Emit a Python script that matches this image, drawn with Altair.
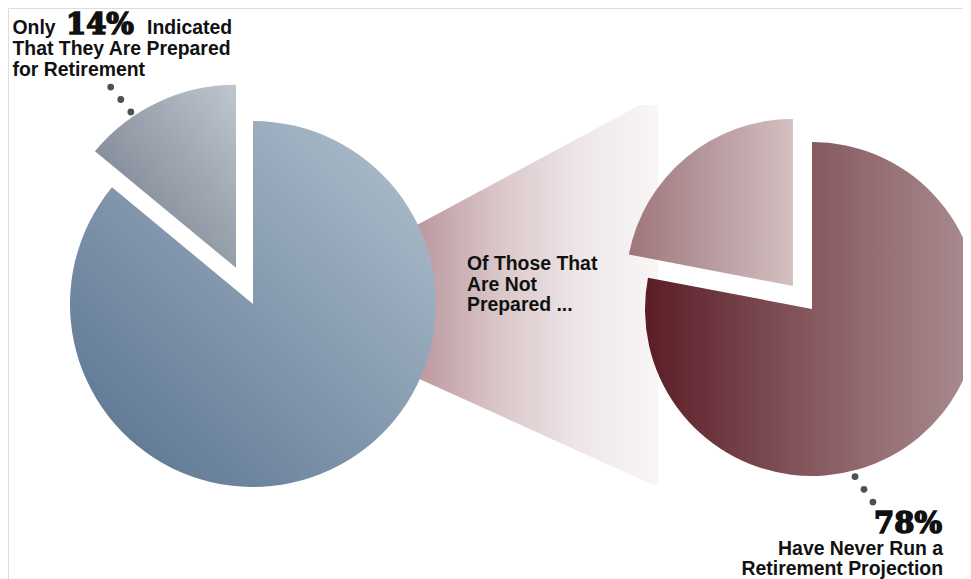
import math
import altair as alt
import pandas as pd

# ---------------- data ----------------
prep_labels = ["Not prepared", "Prepared for retirement"]
prep_values = [86, 14]
proj_labels = ["Have never run a retirement projection", "Have run a retirement projection"]
proj_values = [78, 22]

big_left = "14%"
big_right = "78%"

# ---------------- layout ----------------
W, H = 955, 571          # svg size (page offset 8px)
LEFT_C, LEFT_R, LEFT_EXPLODE = (253, 304), 183, 40
RIGHT_C, RIGHT_R, RIGHT_EXPLODE = (812, 309), 167, 30

xs = alt.Scale(domain=[8, 8 + W], nice=False, zero=False)
ys = alt.Scale(domain=[8 + H, 8], nice=False, zero=False)
ts = alt.Scale(domain=[0, 100], range=[0, 2 * math.pi])


def slices(labels, values, center, explode_idx, explode):
    rows, acc, total = [], 0, sum(values)
    for i, (lab, v) in enumerate(zip(labels, values)):
        s = acc / total * 100
        acc += v
        e = acc / total * 100
        mid = (s + e) / 200 * 2 * math.pi
        off = explode if i == explode_idx else 0
        rows.append(dict(label=lab, value=v, start=s, end=e,
                         cx=center[0] + off * math.sin(mid),
                         cy=center[1] - off * math.cos(mid)))
    return pd.DataFrame(rows)


left_df = slices(prep_labels, prep_values, LEFT_C, 1, LEFT_EXPLODE)
right_df = slices(proj_labels, proj_values, RIGHT_C, 1, RIGHT_EXPLODE)


def grad(c0, c1, x1=0, y1=0, x2=1, y2=0, mid=None):
    stops = [alt.GradientStop(color=c0, offset=0)]
    if mid:
        stops.append(alt.GradientStop(color=mid, offset=0.5))
    stops.append(alt.GradientStop(color=c1, offset=1))
    return alt.LinearGradient(gradient="linear", stops=stops, x1=x1, y1=y1, x2=x2, y2=y2)


def arc_layer(df, label, radius, fill):
    return (alt.Chart(df)
            .transform_filter(alt.datum.label == label)
            .mark_arc(outerRadius=radius, fill=fill)
            .encode(x=alt.X("cx:Q", scale=xs, axis=None),
                    y=alt.Y("cy:Q", scale=ys, axis=None),
                    theta=alt.Theta("start:Q", scale=ts),
                    theta2="end:Q"))


# connector (funnel) between the two pies
funnel_df = pd.DataFrame({
    "x": [415, 640, 653, 658],
    "top": [226, 105, 105, 105],
    "bot": [377, 479, 485, 485],
})
funnel = alt.Chart(funnel_df).mark_area(
    fill=alt.LinearGradient(gradient="linear", x1=0, y1=0, x2=1, y2=0, stops=[
        alt.GradientStop(color="#bb979c", offset=0),
        alt.GradientStop(color="#dac7ca", offset=0.35),
        alt.GradientStop(color="#efe8e9", offset=0.7),
        alt.GradientStop(color="#f9f6f6", offset=1)])
).encode(x=alt.X("x:Q", scale=xs, axis=None),
         y=alt.Y("top:Q", scale=ys, axis=None),
         y2="bot:Q")

left_main = arc_layer(left_df, prep_labels[0], LEFT_R,
                      grad("#56708d", "#b2c2cf", x1=0, y1=1, x2=1, y2=0))
left_small = arc_layer(left_df, prep_labels[1], LEFT_R,
                       grad("#6c7684", "#bec6ce", x1=0, y1=1, x2=1, y2=0))
right_main = arc_layer(right_df, proj_labels[0], RIGHT_R,
                       grad("#5a1d26", "#ab8e92", mid="#86595f"))
right_small = arc_layer(right_df, proj_labels[1], RIGHT_R,
                        grad("#9d767b", "#d3bfc1"))


# leader dots: start just outside the slice edge, then step along a direction
def dots(center, radial_deg, r0, step_deg, step, n=3):
    a = math.radians(radial_deg)
    sx, sy = center[0] + r0 * math.sin(a), center[1] - r0 * math.cos(a)
    b = math.radians(step_deg)
    return [dict(x=sx + k * step * math.sin(b), y=sy - k * step * math.cos(b)) for k in range(n)]


ls = left_df.iloc[1]
dot_df = pd.DataFrame(
    dots((ls.cx, ls.cy), 326, LEFT_R + 5, 321, 16) +
    dots(RIGHT_C, 165.6, RIGHT_R + 6, 145, 15.6))
dot_layer = alt.Chart(dot_df).mark_circle(size=46, color="#505050", opacity=1).encode(
    x=alt.X("x:Q", scale=xs, axis=None), y=alt.Y("y:Q", scale=ys, axis=None))

FONT = "Liberation Sans"
FS = 19.4
TXT = "#111111"


def text_layer(rows, align, font=FONT, size=FS, weight="bold", stroke_w=0):
    props = dict(align=align, baseline="alphabetic", font=font, fontSize=size,
                 fontWeight=weight, color=TXT)
    if stroke_w:
        props.update(stroke=TXT, strokeWidth=stroke_w)
    return alt.Chart(pd.DataFrame(rows)).mark_text(**props).encode(
        x=alt.X("x:Q", scale=xs, axis=None),
        y=alt.Y("y:Q", scale=ys, axis=None),
        text="t:N")


left_texts = text_layer([
    dict(x=12.5, y=34, t="Only"),
    dict(x=147, y=34, t="Indicated"),
    dict(x=12.5, y=54.5, t="That They Are Prepared"),
    dict(x=12.5, y=76, t="for Retirement"),
    dict(x=467, y=270, t="Of Those That"),
    dict(x=467, y=291, t="Are Not"),
    dict(x=467, y=311, t="Prepared ..."),
], "left")
right_texts = text_layer([
    dict(x=943, y=555, t="Have Never Run a"),
    dict(x=943, y=575, t="Retirement Projection"),
], "right")
big_l = text_layer([dict(x=66, y=34, t=big_left)], "left",
                   font="DejaVu Serif", size=29, weight="bold", stroke_w=1.6)
big_r = text_layer([dict(x=942, y=533, t=big_right)], "right",
                   font="DejaVu Serif", size=29, weight="bold", stroke_w=1.6)

chart = alt.layer(
    funnel, left_main, left_small, right_main, right_small, dot_layer,
    left_texts, right_texts, big_l, big_r
).properties(
    width=W, height=H, padding=0,
    autosize=alt.AutoSizeParams(type="none"),
).configure_view(strokeWidth=0, stroke="transparent").configure(background="white")

chart.save("out.html", embed_options={"renderer": "svg", "actions": False})
